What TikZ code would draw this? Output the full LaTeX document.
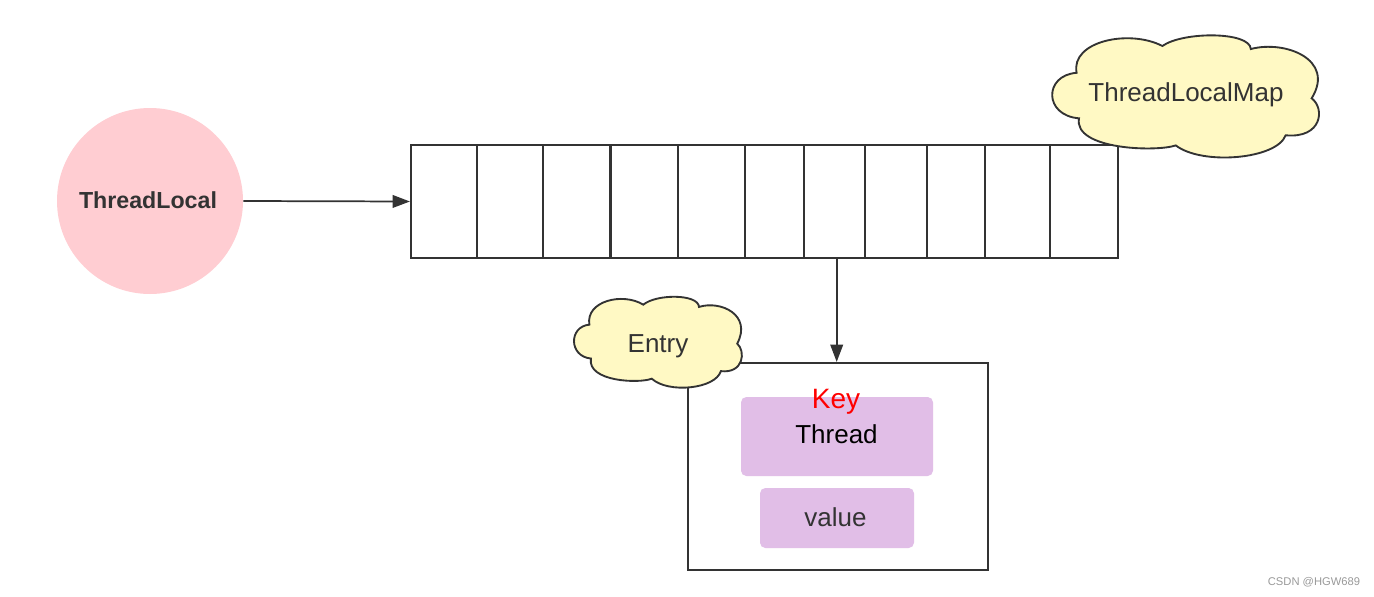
\documentclass[tikz,border=0pt]{standalone}
\usepackage{fontspec}
\setmainfont{Liberation Sans}
\usetikzlibrary{arrows.meta}
\definecolor{ln}{HTML}{333333}
\definecolor{pinkfill}{HTML}{FFCDD2}
\definecolor{cloudfill}{HTML}{FFF9C4}
\definecolor{purp}{HTML}{E1BEE7}
\tikzset{
  lbl/.style={font=\fontsize{19.5pt}{22pt}\selectfont, text=ln, inner sep=0pt, anchor=base},
  boxline/.style={draw=ln, line width=1.6pt},
  cloudshape/.style={draw=ln, line width=1.4pt, fill=cloudfill},
  arr/.style={draw=ln, line width=1.3pt, -{Triangle[length=13pt,width=9.5pt]}},
  purpbox/.style={fill=purp, rounded corners=4pt, draw=none}
}
\newcommand{\drawcloud}[4]{%
  \begin{scope}[shift={(#1,#2)}, xscale=#3, yscale=#4]
  \path[cloudshape] (0.103,0.310)
    .. controls (0.08,0.05) and (0.30,-0.05) .. (0.423,0.090)
    .. controls (0.50,-0.03) and (0.75,-0.03) .. (0.753,0.115)
    .. controls (0.88,0.04) and (1.07,0.20) .. (0.980,0.519)
    .. controls (1.03,0.60) and (1.02,0.85) .. (0.883,0.822)
    .. controls (0.85,1.02) and (0.57,1.07) .. (0.473,0.905)
    .. controls (0.40,0.96) and (0.09,0.94) .. (0.112,0.683)
    .. controls (-0.02,0.66) and (-0.02,0.33) .. (0.103,0.310) -- cycle;
  \end{scope}}
\begin{document}
\begin{tikzpicture}[x=0.75pt, y=-0.75pt]
\useasboundingbox (0,0) rectangle (1374,596);
% ThreadLocal circle
\node[circle, fill=pinkfill, minimum size=186*0.75pt, inner sep=0pt] (tl) at (150,201) {};
\node[lbl, font=\bfseries\fontsize{17.4pt}{20pt}\selectfont] (tltext) at (148,208.5) {ThreadLocal};
% array
\node[boxline, rectangle, minimum width=707*0.75pt, minimum height=113*0.75pt, inner sep=0pt] (map) at (764.5,201.5) {};
\foreach \x in {477,543,610.5,678,745,804,865,927,985,1050}
  \draw[ln, line width=1.6pt] (\x,145) -- (\x,258);
% ThreadLocalMap cloud
\drawcloud{1049}{35}{268}{122}
\node[lbl] (maptext) at (1186,101.7) {ThreadLocalMap};
% Entry rectangle
\node[boxline, rectangle, minimum width=300*0.75pt, minimum height=207*0.75pt, inner sep=0pt, fill=white] (entry) at (838,466.5) {};
% Entry cloud
\drawcloud{572}{296.5}{168.6}{90.8}
\node[lbl] (entrytext) at (658,352.7) {Entry};
% inner boxes
\node[purpbox, minimum width=192*0.75pt, minimum height=79*0.75pt] (threadbox) at (837,436.5) {};
\node[purpbox, minimum width=154*0.75pt, minimum height=60*0.75pt] (valuebox) at (837,518) {};
\node[lbl, text=black] (threadtext) at (836.5,443.7) {Thread};
\node[lbl] (valuetext) at (835.5,526) {value};
\node[lbl, text=red, font=\fontsize{21pt}{24pt}\selectfont] (keytext) at (836,408) {Key};
% connectors
\draw[arr] (tl.east) -- (map.west);
\coordinate (down) at (836.7,258);
\draw[arr] (down) -- (down |- entry.north);
% watermark
\node[text=black!40, font=\fontsize{8.4pt}{10pt}\selectfont, inner sep=0pt] (wm) at (1314,582) {CSDN @HGW689};
\end{tikzpicture}
\end{document}
